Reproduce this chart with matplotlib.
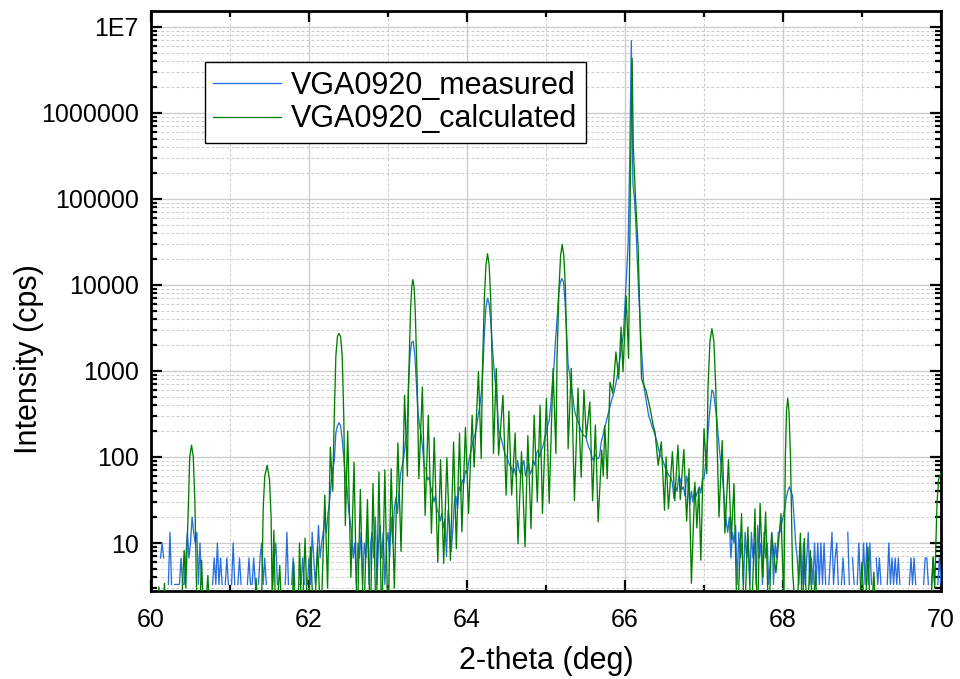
import numpy as np
import matplotlib
matplotlib.use("Agg")
import matplotlib.pyplot as plt
from matplotlib.ticker import LogLocator, NullFormatter, MultipleLocator

plt.rcParams['font.family'] = ['Liberation Sans', 'DejaVu Sans']

# measured scan: 60-70 deg, 0.02 deg step (0 = no counts)
scan_start = 60.0
scan_step = 0.02
measured_cps = [
    0, 0, 0, 0, 0, 0, 6.7, 10, 6.7, 0, 0, 3.3, 13.3, 3.3, 0, 3.3, 3.3, 3.3, 3.3, 6.7, 3.3, 3.3, 6.7, 13.3, 6.7,
    10, 20, 13.3, 10, 13.3, 3.3, 10, 3.3, 0, 0, 0, 0, 0, 0, 3.3, 6.7, 3.3, 10, 3.3, 6.7, 3.3, 0, 3.3, 6.7, 3.3,
    0, 3.3, 10, 3.3, 0, 3.3, 6.7, 3.3, 0, 0, 0, 3.3, 6.7, 3.3, 3.3, 6.7, 3.3, 0, 3.3, 6.7, 10, 3.3, 6.7, 3.3, 0,
    0, 0, 3.3, 6.7, 10, 3.3, 0, 0, 0, 0, 3.3, 13.3, 3.3, 0, 3.3, 6.7, 3.3, 0, 0, 3.3, 3.3, 6.7, 3.3, 0, 3.3,
    6.7, 3.3, 13.3, 6.7, 3.3, 6.7, 16, 6.7, 10, 13.3, 20, 13.3, 22, 30, 50, 70, 91, 190, 230, 250, 230, 160, 100, 60, 45,
    25, 18, 13.3, 6.7, 10, 3.3, 10, 6.7, 13.3, 3.3, 10, 6.7, 16, 3.3, 10, 13.3, 6.7, 20, 3.3, 10, 16, 6.7, 13.3, 3.3, 10,
    13.3, 6.7, 20, 10, 25, 34, 22, 40, 64, 80, 99, 150, 190, 700, 1600, 2150, 2200, 1500, 700, 330, 230, 180, 120, 76, 73,
    54, 58, 45, 38, 30, 35, 25, 22, 18, 22, 15, 19, 7, 24, 16, 8, 14, 30, 35, 25, 45, 40, 54, 50, 70,
    64, 85, 107, 130, 156, 180, 220, 300, 380, 540, 1000, 2700, 5500, 7000, 6000, 3900, 2000, 1100, 700, 450, 205, 180, 156, 130, 107,
    100, 91, 80, 76, 65, 73, 60, 91, 70, 63, 80, 91, 60, 73, 85, 63, 70, 91, 80, 110, 120, 100, 120, 130, 160,
    190, 230, 265, 400, 720, 1100, 2250, 4000, 7900, 10500, 11800, 11000, 6700, 2800, 1200, 900, 650, 500, 350, 300, 265, 240, 205, 190, 175,
    175, 150, 130, 120, 100, 91, 107, 100, 95, 105, 150, 175, 220, 250, 300, 350, 420, 490, 560, 680, 850, 1100, 1500, 2000, 2700,
    6000, 13700, 30000, 300000, 6900000, 150000, 100000, 45000, 15000, 6000, 2500, 1200, 650, 500, 380, 300, 265, 230, 205, 180, 156, 130, 107, 100, 91,
    80, 70, 65, 60, 58, 50, 33, 45, 40, 60, 55, 42, 45, 35, 60, 50, 28, 40, 30, 45, 35, 40, 45, 38, 56,
    56, 80, 130, 250, 400, 600, 560, 400, 290, 180, 110, 76, 50, 30, 18, 13.3, 20, 6.7, 13.3, 10, 16, 3.3, 13.3, 6.7, 10,
    3.3, 13.3, 6.7, 10, 3.3, 13.3, 6.7, 10, 3.3, 16, 6.7, 10, 3.3, 13.3, 6.7, 10, 3.3, 6.7, 13.3, 3.3, 10, 6.7, 13.3, 13.3, 16,
    20, 24, 33, 40, 45, 40, 36, 20, 10, 6.7, 3.3, 10, 3.3, 10, 3.3, 6.7, 13.3, 3.3, 6.7, 3.3, 10, 3.3, 10, 3.3, 10,
    3.3, 10, 3.3, 0, 3.3, 6.7, 13.3, 3.3, 6.7, 10, 3.3, 0, 3.3, 6.7, 3.3, 0, 13.3, 3.3, 0, 6.7, 3.3, 0, 3.3, 10, 3.3,
    3.3, 10, 3.3, 10, 3.3, 10, 3.3, 0, 0, 6.7, 3.3, 6.7, 3.3, 0, 0, 0, 3.3, 10, 3.3, 6.7, 3.3, 6.7, 3.3, 6.7, 3.3,
    0, 0, 0, 0, 0, 3.3, 6.7, 3.3, 6.7, 3.3, 0, 0, 0, 0, 3.3, 6.7, 6.7, 3.3, 0, 3.3, 6.7, 3.3, 0, 3.3, 6.7,
    3.3,
]

# simulated curve, read at fringe maxima / minima
calc_2theta = [
    60.00, 60.07, 60.10, 60.13, 60.15, 60.17, 60.20, 60.37, 60.42, 60.44,
    60.475, 60.49, 60.513, 60.535, 60.555, 60.58, 60.61, 60.64, 60.67, 60.72,
    60.75, 61.30, 61.33, 61.36, 61.40, 61.42, 61.44, 61.47, 61.50, 61.52,
    61.535, 61.555, 61.58, 61.63, 61.66, 61.78, 61.805, 61.83, 61.86, 61.88,
    61.91, 61.95, 61.985, 62.02, 62.06, 62.11, 62.15, 62.20, 62.235, 62.27,
    62.30, 62.32, 62.34, 62.36, 62.38, 62.40, 62.42, 62.44, 62.46, 62.49,
    62.53, 62.57, 62.61, 62.65, 62.69, 62.74, 62.775, 62.81, 62.85, 62.885,
    62.92, 62.96, 63.00, 63.04, 63.08, 63.125, 63.165, 63.21, 63.245, 63.26,
    63.285, 63.30, 63.315, 63.33, 63.345, 63.37, 63.39, 63.435, 63.47, 63.51,
    63.55, 63.585, 63.63, 63.665, 63.705, 63.745, 63.79, 63.83, 63.865, 63.905,
    63.935, 63.98, 64.02, 64.065, 64.09, 64.145, 64.18, 64.195, 64.22, 64.24,
    64.26, 64.28, 64.30, 64.32, 64.335, 64.37, 64.40, 64.455, 64.495, 64.53,
    64.565, 64.61, 64.645, 64.69, 64.735, 64.77, 64.81, 64.85, 64.89, 64.925,
    64.955, 65.005, 65.04, 65.09, 65.125, 65.14, 65.165, 65.185, 65.205, 65.225,
    65.245, 65.265, 65.28, 65.32, 65.36, 65.405, 65.445, 65.48, 65.51, 65.555,
    65.59, 65.625, 65.66, 65.705, 65.725, 65.745, 65.775, 65.81, 65.845, 65.885,
    65.92, 65.95, 65.975, 66.015, 66.045, 66.07, 66.09, 66.105, 66.133, 66.166,
    66.187, 66.209, 66.23, 66.264, 66.314, 66.356, 66.38, 66.42, 66.46, 66.50,
    66.52, 66.55, 66.60, 66.63, 66.67, 66.70, 66.745, 66.78, 66.81, 66.84,
    66.885, 66.91, 66.935, 66.96, 67.00, 67.035, 67.05, 67.075, 67.10, 67.125,
    67.15, 67.17, 67.19, 67.23, 67.265, 67.31, 67.345, 67.38, 67.42, 67.475,
    67.51, 67.555, 67.60, 67.645, 67.675, 67.71, 67.745, 67.78, 67.82, 67.855,
    67.91, 67.975, 68.01, 68.03, 68.045, 68.06, 68.075, 68.095, 68.12, 68.17,
    68.22, 68.245, 68.27, 68.305, 68.345, 68.375, 68.41, 68.44, 68.95, 69.00,
    69.035, 69.075, 69.11, 69.15, 69.18, 69.86, 69.90, 69.92, 69.95, 69.97,
    69.995, 70.00,
]
calc_cps = [
    1, 1, 3.1, 1, 1, 3.4, 1, 1, 8.2, 3,
    31, 100, 137, 100, 31, 2, 1, 6.3, 1, 4.2,
    1, 1, 3.9, 1, 2, 25, 60, 80, 55, 20,
    2, 14, 1, 5.5, 1, 1, 6, 1, 1, 10,
    1, 11.4, 1, 9, 1, 9, 1, 36, 3, 130,
    40, 300, 1500, 2500, 2720, 2500, 1500, 300, 16, 200,
    4, 87, 1, 42, 1, 32, 1, 49, 1, 67,
    1, 71, 1, 73, 3, 146, 8, 520, 60, 700,
    5000, 9500, 11500, 9500, 5000, 700, 56, 650, 21, 305,
    13, 168, 6, 93, 5.8, 98, 6.3, 149, 8.6, 190,
    13.5, 220, 22, 305, 76, 980, 96, 1000, 7000, 17000,
    23000, 17000, 7000, 1000, 110, 1070, 105, 520, 36, 340,
    36, 190, 9.8, 115, 9, 177, 14.7, 305, 30, 400,
    22, 480, 29, 1070, 110, 1500, 9400, 22000, 29500, 22000,
    9400, 1500, 125, 1070, 31, 630, 58, 600, 170, 435,
    31, 235, 17.6, 120, 60, 230, 56, 740, 550, 1660,
    810, 3230, 980, 7400, 1400, 200000, 4300000, 400000, 100000, 27500,
    5000, 810, 715, 600, 380, 235, 195, 80, 150, 24,
    100, 25, 115, 31, 137, 32, 122, 18, 73, 3.4,
    51, 15, 43, 6.3, 213, 64, 600, 2200, 3100, 2200,
    600, 100, 20, 155, 13, 93, 11, 49, 1, 22,
    1, 15.3, 1, 25, 1, 29, 4, 23, 1, 13,
    4.5, 22, 2, 100, 350, 480, 350, 100, 5, 1,
    13, 1, 11.3, 1, 8.2, 1, 4.8, 1, 1, 6,
    1, 9, 1, 4.6, 1, 1, 6.9, 3, 30, 55,
    64, 63,
]

y_ticks = [10, 100, 1000, 10000, 100000, 1000000, 10000000]
y_tick_labels = ['10', '100', '1000', '10000', '100000', '1000000', '1E7']

meas = np.array(measured_cps, dtype=float)
meas[meas <= 0] = np.nan
meas_x = scan_start + scan_step * np.arange(len(meas))

fig = plt.figure(figsize=(9.6, 6.79), dpi=100)
ax = fig.add_axes([0.1573, 0.1296, 0.8229, 0.8542])

ax.plot(meas_x, meas, color='#2a6fe0', lw=0.95, label='VGA0920_measured', zorder=3)
ax.plot(calc_2theta, calc_cps, color='#008000', lw=0.95, label='VGA0920_calculated', zorder=4)

ax.set_yscale('log')
ax.set_xlim(60, 70)
ax.set_ylim(2.77, 1.52e7)

ax.set_xticks(np.arange(60, 71, 2))
ax.xaxis.set_minor_locator(MultipleLocator(1))
ax.set_yticks(y_ticks)
ax.set_yticklabels(y_tick_labels)
ax.yaxis.set_minor_locator(LogLocator(base=10, subs=np.arange(2, 10), numticks=20))
ax.yaxis.set_minor_formatter(NullFormatter())

ax.grid(which='major', color='#cccccc', lw=1.0, ls='-', zorder=0)
ax.grid(which='minor', color='#cccccc', lw=0.8, ls=(0, (2.5, 2)), zorder=0)
ax.set_axisbelow(True)

ax.tick_params(which='both', direction='in', top=True, right=True, width=1.6)
ax.tick_params(which='major', length=8, labelsize=18)
ax.tick_params(axis='y', which='major', pad=9)
ax.tick_params(axis='x', which='major', pad=12)
ax.tick_params(which='minor', length=4.5)
for s in ax.spines.values():
    s.set_linewidth(2)

ax.set_xlabel('2-theta (deg)', fontsize=22, labelpad=10)
ax.set_ylabel('Intensity (cps)', fontsize=22)
ax.yaxis.set_label_coords(-0.135, 0.40)

leg = ax.legend(loc='upper left', bbox_to_anchor=(0.068, 0.912), fontsize=22,
                frameon=True, fancybox=False, edgecolor='black', framealpha=1,
                handlelength=2.2, handletextpad=0.35, labelspacing=0.12,
                borderpad=0.28, borderaxespad=0)
leg.get_frame().set_linewidth(1.0)

fig.savefig('out.png', dpi=100)
